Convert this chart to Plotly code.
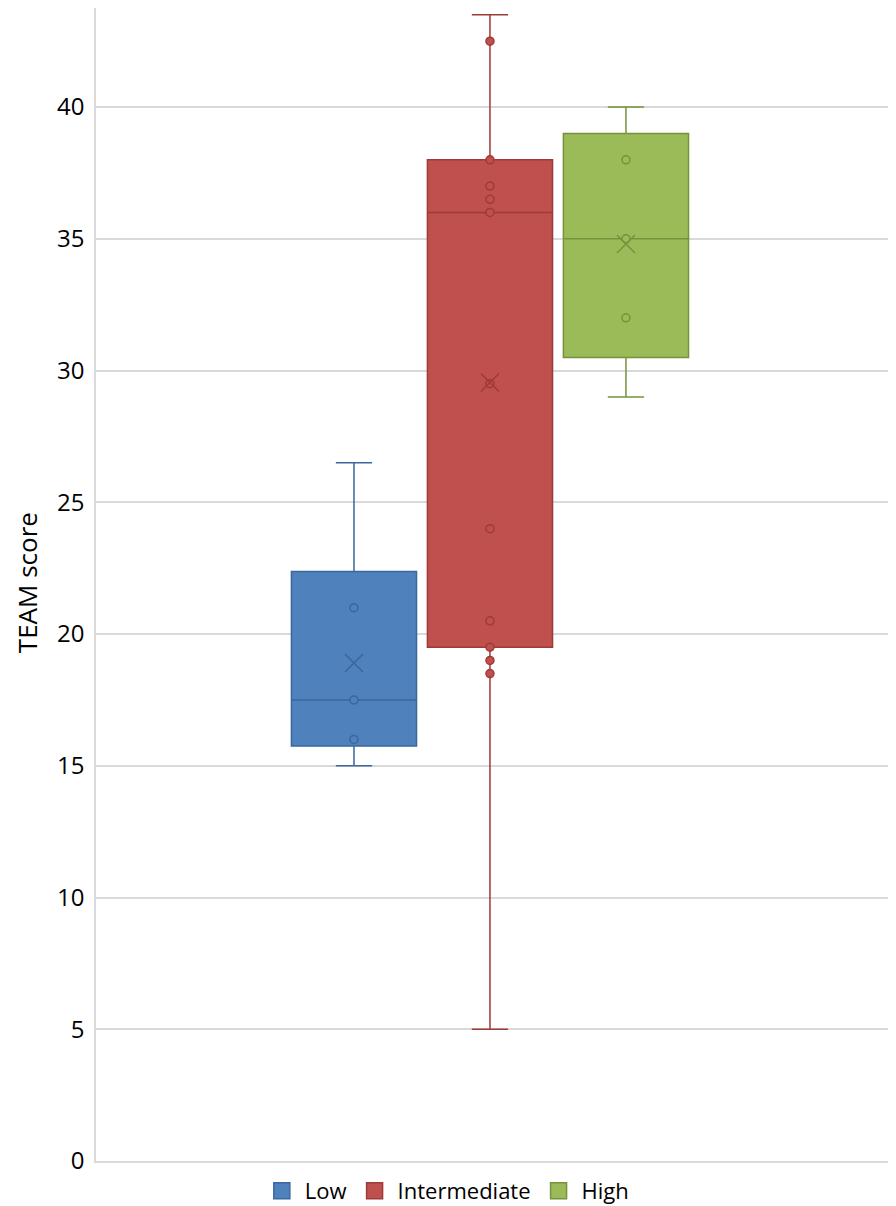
import plotly.graph_objects as go

# groups and summary stats
groups = ["Low", "Intermediate", "High"]
q1 = [15.75, 19.5, 30.5]
median = [17.5, 36.0, 35.0]
q3 = [22.375, 38.0, 39.0]
lower = [15.0, 5.0, 29.0]
upper = [26.5, 43.5, 40.0]
means = [18.9, 29.55, 34.8]

# points drawn inside the whiskers
pts_low = [21.0, 17.5, 16.0]
pts_mid = [42.5, 38.0, 37.0, 36.5, 36.0, 29.5, 24.0, 20.5, 19.5, 19.0, 18.5]
pts_high = [38.0, 35.0, 32.0]
points = [pts_low, pts_mid, pts_high]

fills = ["#4F81BD", "#C0504D", "#9BBB59"]
lines = ["#3A679C", "#9E3A37", "#76923C"]

FONT = "Open Sans"

fig = go.Figure()

for i, g in enumerate(groups):
    fig.add_trace(go.Box(
        x=[g], q1=[q1[i]], median=[median[i]], q3=[q3[i]],
        lowerfence=[lower[i]], upperfence=[upper[i]],
        width=0.92, whiskerwidth=0.29,
        fillcolor=fills[i],
        line=dict(color=lines[i], width=1.5),
        boxpoints=False, showlegend=False, hoverinfo="skip",
    ))
    fig.add_trace(go.Scatter(
        x=[g] * len(points[i]), y=points[i], mode="markers",
        marker=dict(symbol="circle", size=8, color=fills[i],
                    line=dict(color=lines[i], width=1.5)),
        showlegend=False,
    ))
    fig.add_trace(go.Scatter(
        x=[g], y=[means[i]], mode="markers",
        marker=dict(symbol="x-thin", size=18,
                    line=dict(color=lines[i], width=1.5)),
        showlegend=False,
    ))

# legend swatches
for i, g in enumerate(groups):
    fig.add_trace(go.Scatter(
        x=[None], y=[None], mode="markers", name=g,
        marker=dict(symbol="square", size=20, color=fills[i],
                    line=dict(color=lines[i], width=1.5)),
    ))

# y axis title as a rotated annotation near the left edge
fig.add_annotation(
    text="TEAM score", textangle=-90, showarrow=False,
    xref="paper", yref="paper", x=-0.0865, y=0.502,
    xanchor="center", yanchor="middle", borderpad=0,
    font=dict(size=26, family=FONT, color="#000000"),
)

# page body has an 8px margin, so the figure is shifted by 8px
fig.update_layout(
    width=888, height=1198,
    margin=dict(l=88, r=2, t=0, b=45),
    paper_bgcolor="white", plot_bgcolor="white",
    font=dict(family=FONT, size=22, color="#000000"),
    legend=dict(orientation="h", x=0.439, xanchor="center",
                yref="container", y=0.0125, yanchor="middle",
                font=dict(size=22), itemwidth=36, traceorder="normal"),
    xaxis=dict(range=[-1.897, 3.971], showticklabels=False, showgrid=False,
               zeroline=False, showline=True, linecolor="#D9D9D9",
               linewidth=1.5, ticks="", automargin=False),
    yaxis=dict(range=[0, 43.76], tickvals=[0, 5, 10, 15, 20, 25, 30, 35, 40],
               showgrid=True, gridcolor="#D9D9D9", gridwidth=1.5,
               zeroline=False, showline=True, linecolor="#D9D9D9",
               linewidth=1.5, ticks="outside", ticklen=5,
               tickcolor="rgba(0,0,0,0)",
               tickfont=dict(size=24), automargin=False),
)

fig.write_html("out.html")
